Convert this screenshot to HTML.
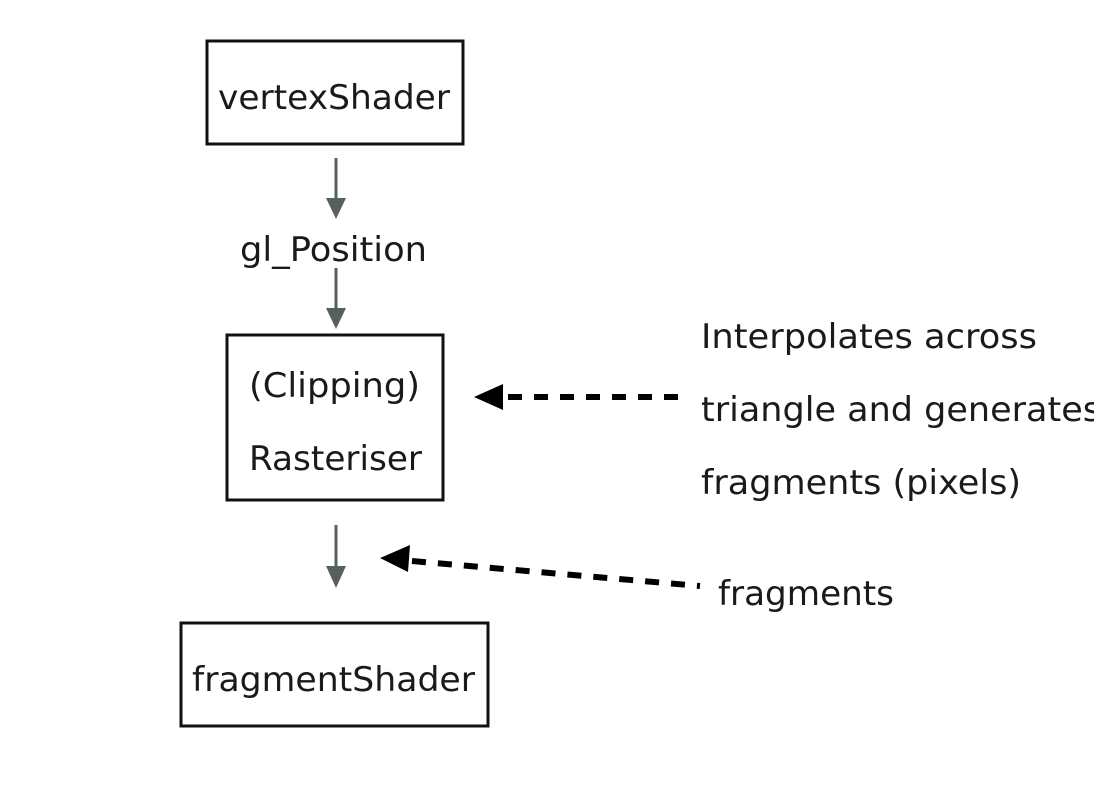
<!DOCTYPE html>
<html><head><meta charset="utf-8"><style>
html,body{margin:0;padding:0;background:#fff;}
svg{display:block;}
text{font-family:"DejaVu Sans","Liberation Sans",sans-serif;fill:#1a1a1a;font-size:34px;}
</style></head><body>
<svg width="1094" height="800" viewBox="0 0 1094 800" xmlns="http://www.w3.org/2000/svg">
<rect x="0" y="0" width="1094" height="800" fill="#fff"/>
<rect x="207" y="41" width="256" height="103" fill="none" stroke="#111" stroke-width="3"/>
<rect x="227" y="335" width="216" height="165" fill="none" stroke="#111" stroke-width="3"/>
<rect x="181" y="623" width="307" height="103" fill="none" stroke="#111" stroke-width="3"/>
<text x="218" y="109" textLength="232" lengthAdjust="spacingAndGlyphs">vertexShader</text>
<text x="240" y="261" textLength="187" lengthAdjust="spacingAndGlyphs">gl_Position</text>
<text x="249" y="397" textLength="171" lengthAdjust="spacingAndGlyphs">(Clipping)</text>
<text x="249" y="470" textLength="173" lengthAdjust="spacingAndGlyphs">Rasteriser</text>
<text x="192" y="691" textLength="283" lengthAdjust="spacingAndGlyphs">fragmentShader</text>
<text x="701" y="348" textLength="336" lengthAdjust="spacingAndGlyphs">Interpolates across</text>
<text x="701" y="421" textLength="400" lengthAdjust="spacingAndGlyphs">triangle and generates</text>
<text x="701" y="494" textLength="320" lengthAdjust="spacingAndGlyphs">fragments (pixels)</text>
<text x="718" y="605" textLength="176" lengthAdjust="spacingAndGlyphs">fragments</text>
<g fill="#56605e" stroke="#56605e">
<line x1="336" y1="158" x2="336" y2="200" stroke-width="3"/>
<polygon points="326,198 346,198 336,219" stroke="none"/>
<line x1="336" y1="268" x2="336" y2="310" stroke-width="3"/>
<polygon points="326,308 346,308 336,329" stroke="none"/>
<line x1="336" y1="525" x2="336" y2="568" stroke-width="3"/>
<polygon points="326,566 346,566 336,588" stroke="none"/>
</g>
<polygon points="474,397 503,384 503,410" fill="#000"/>
<line x1="508" y1="397" x2="683" y2="397" stroke="#000" stroke-width="6" stroke-dasharray="14,12"/>
<polygon points="380,558 410,545 408,572" fill="#000"/>
<line x1="412" y1="561" x2="700" y2="586" stroke="#000" stroke-width="6" stroke-dasharray="14,12"/>
</svg>
</body></html>
